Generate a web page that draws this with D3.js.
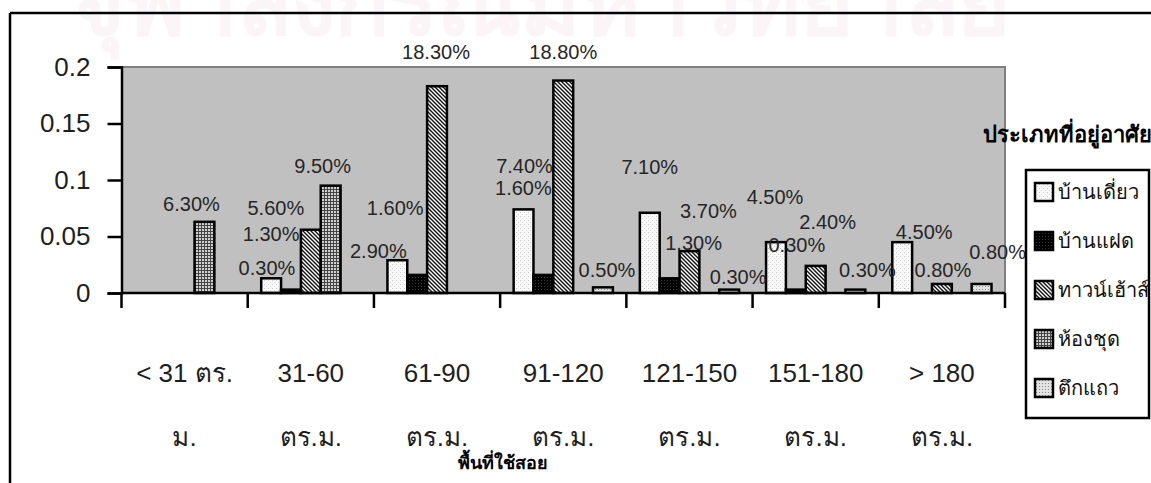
<!DOCTYPE html>
<html>
<head>
<meta charset="utf-8">
<script src="https://cdn.jsdelivr.net/npm/d3@7/dist/d3.min.js"></script>
<style>
  html, body { margin: 0; padding: 0; background: #fff; }
  svg { display: block; font-family: "Liberation Sans", Arial, sans-serif; }
</style>
</head>
<body>
<svg id="chart" width="1151" height="483"></svg>
<script>
// Floor-area bands (two-line labels)
const categoriesLine1 = ["< 31 ตร.", "31-60", "61-90", "91-120", "121-150", "151-180", "> 180"];
const categoriesLine2 = ["ม.", "ตร.ม.", "ตร.ม.", "ตร.ม.", "ตร.ม.", "ตร.ม.", "ตร.ม."];

// Housing types
const seriesNames = ["บ้านเดี่ยว", "บ้านแฝด", "ทาวน์เฮ้าส์", "ห้องชุด", "ตึกแถว"];

// Shares by housing type, per floor-area band
const singleHouse = [0, 0.013, 0.029, 0.074, 0.071, 0.045, 0.045];
const twinHouse   = [0, 0.003, 0.016, 0.016, 0.013, 0.003, 0];
const townhouse   = [0, 0.056, 0.183, 0.188, 0.037, 0.024, 0.008];
const condo       = [0.063, 0.095, 0, 0, 0, 0, 0];
const shophouse   = [0, 0, 0, 0.005, 0.003, 0.003, 0.008];

const yTicks = [0, 0.05, 0.1, 0.15, 0.2];
const xTitle = "พื้นที่ใช้สอย";
const legendTitle = "ประเภทที่อยู่อาศัย";

const seriesValues = [singleHouse, twinHouse, townhouse, condo, shophouse];

// Label placement offsets (px) from each bar's top-centre: [band][series]
const labelNudge = [
  [null, null, null, [-13, -18], null],
  [[0, -45], [-24, -22], [-35, -22], [-8, -20], null],
  [[-19, -9], [-22, -67], [-1, -34], null, null],
  [[1, -44], [-20, -87], [0, -29], null, [4, -18]],
  [[0, -46], [24, -36], [19, -40], null, [9, -13]],
  [[-1, -45], [1, -45], [12, -44], null, [12, -20]],
  [[22, -10], null, [1, -14], null, [16, -32]]
];

const svg = d3.select("#chart");
const defs = svg.append("defs");

// Fill patterns for the five housing types
function pattern(id, size, bg, draw) {
  const p = defs.append("pattern").attr("id", id)
    .attr("patternUnits", "userSpaceOnUse").attr("width", size).attr("height", size);
  p.append("rect").attr("width", size).attr("height", size).attr("fill", bg);
  draw(p);
}
pattern("pSingle", 4, "#fafafa", p => {
  p.append("rect").attr("x", 0).attr("y", 0).attr("width", 1).attr("height", 1).attr("fill", "#c4c4c4");
  p.append("rect").attr("x", 2).attr("y", 2).attr("width", 1).attr("height", 1).attr("fill", "#d4d4d4");
});
pattern("pTwin", 3, "#000", p => {
  p.append("rect").attr("x", 1).attr("y", 1).attr("width", 1).attr("height", 1).attr("fill", "#3a3a3a");
});
pattern("pTown", 4, "#fff", p => {
  p.append("path").attr("d", "M-1,-1L5,5M3,-1L5,1M-1,3L1,5")
    .attr("stroke", "#111").attr("stroke-width", 1.4);
});
pattern("pCondo", 3, "#d0d0d0", p => {
  p.append("rect").attr("x", 0).attr("y", 0).attr("width", 3).attr("height", 1).attr("fill", "#444");
  p.append("rect").attr("x", 0).attr("y", 0).attr("width", 1).attr("height", 3).attr("fill", "#444");
});
pattern("pRow", 3, "#e2e2e2", p => {
  p.append("rect").attr("x", 1).attr("y", 1).attr("width", 1).attr("height", 1).attr("fill", "#8a8a8a");
});
const fills = ["url(#pSingle)", "url(#pTwin)", "url(#pTown)", "url(#pCondo)", "url(#pRow)"];

// Faint watermark along the top edge
svg.append("text")
  .attr("x", 70).attr("y", 34)
  .attr("font-size", 92).attr("font-weight", "bold")
  .attr("fill", "#fbf5f8")
  .attr("textLength", 940)
  .text("จุฬาลงกรณ์มหาวิทยาลัย");

// Outer frame
svg.append("line").attr("x1", 10).attr("x2", 1151).attr("y1", 13).attr("y2", 13)
  .attr("stroke", "#000").attr("stroke-width", 2.5);
svg.append("line").attr("x1", 10).attr("x2", 10).attr("y1", 13).attr("y2", 483)
  .attr("stroke", "#000").attr("stroke-width", 2.5);

// Scales
const x0 = d3.scaleBand().domain(d3.range(categoriesLine1.length)).range([121.5, 1005]).padding(0);
const x1 = d3.scaleBand().domain(d3.range(seriesNames.length)).range([0, x0.bandwidth()])
  .paddingInner(0).paddingOuter(0.68);
const y = d3.scaleLinear().domain([0, 0.2]).range([293, 67]);

// Plot area
const [pl, pr] = x0.range();
svg.append("rect").attr("x", pl).attr("y", y(0.2)).attr("width", pr - pl).attr("height", y(0) - y(0.2))
  .attr("fill", "#c0c0c0");
svg.append("path")
  .attr("d", `M${pl},${y(0.2)}H${pr}V${y(0)}`)
  .attr("fill", "none").attr("stroke", "#808080").attr("stroke-width", 2);

// Bars
const bars = [];
seriesValues.forEach((vals, s) => vals.forEach((v, c) => { if (v > 0) bars.push({ s, c, v }); }));
svg.append("g").selectAll("rect").data(bars).join("rect")
  .attr("x", d => x0(d.c) + x1(d.s))
  .attr("y", d => y(d.v))
  .attr("width", x1.bandwidth())
  .attr("height", d => y(0) - y(d.v))
  .attr("fill", d => fills[d.s])
  .attr("stroke", "#000").attr("stroke-width", 2.5);

// Y axis
const yAxis = svg.append("g").attr("transform", `translate(${pl},0)`)
  .call(d3.axisLeft(y).tickValues(yTicks).tickFormat(d => String(d)).tickSize(14).tickPadding(17));
yAxis.select(".domain").attr("stroke", "#000").attr("stroke-width", 2.5);
yAxis.selectAll(".tick line").attr("stroke", "#000").attr("stroke-width", 2.5);
yAxis.selectAll(".tick text").attr("font-size", 26).attr("fill", "#1e1e1e")
  .attr("font-family", "'Liberation Sans', Arial, sans-serif");

// X axis: baseline and tick marks at band edges
const edges = d3.range(categoriesLine1.length + 1).map(i =>
  i < categoriesLine1.length ? x0(i) : x0(i - 1) + x0.bandwidth());
svg.append("line").attr("x1", pl).attr("x2", pr).attr("y1", y(0)).attr("y2", y(0))
  .attr("stroke", "#000").attr("stroke-width", 2.5);
svg.append("g").selectAll("line").data(edges).join("line")
  .attr("x1", d => d).attr("x2", d => d).attr("y1", y(0)).attr("y2", y(0) + 15)
  .attr("stroke", "#000").attr("stroke-width", 2.5);

// Category labels
const catG = svg.append("g").attr("font-size", 26).attr("fill", "#1e1e1e").attr("text-anchor", "middle");
catG.selectAll("text.l1").data(categoriesLine1).join("text").attr("class", "l1")
  .attr("x", (d, i) => x0(i) + x0.bandwidth() / 2).attr("y", 382).text(d => d);
catG.selectAll("text.l2").data(categoriesLine2).join("text").attr("class", "l2")
  .attr("x", (d, i) => x0(i) + x0.bandwidth() / 2).attr("y", 446).text(d => d);

// Axis title
svg.append("text").attr("x", 503).attr("y", 469).attr("text-anchor", "middle")
  .attr("font-size", 18).attr("font-weight", "bold").attr("fill", "#000").text(xTitle);

// Value labels
const fmt = d3.format(".2%");
svg.append("g").attr("font-size", 20).attr("fill", "#262626").attr("text-anchor", "middle")
  .selectAll("text").data(bars).join("text")
  .attr("x", d => x0(d.c) + x1(d.s) + x1.bandwidth() / 2 + labelNudge[d.c][d.s][0])
  .attr("y", d => y(d.v) + labelNudge[d.c][d.s][1])
  .attr("dy", "0.36em")
  .text(d => fmt(d.v));

// Legend
svg.append("text").attr("x", 983).attr("y", 142).attr("font-size", 22).attr("font-weight", "bold")
  .attr("fill", "#000").text(legendTitle);
const lg = svg.append("g");
lg.append("rect").attr("x", 1026).attr("y", 170).attr("width", 123).attr("height", 248)
  .attr("fill", "#fff").attr("stroke", "#000").attr("stroke-width", 2.5);
const items = lg.selectAll("g").data(seriesNames).join("g")
  .attr("transform", (d, i) => `translate(1035,${192 + i * 49})`);
items.append("rect").attr("x", 0).attr("y", -9).attr("width", 18).attr("height", 18)
  .attr("fill", (d, i) => fills[i]).attr("stroke", "#000").attr("stroke-width", 2.5);
items.append("text").attr("x", 23).attr("y", 0).attr("dy", "0.35em")
  .attr("font-size", 20).attr("fill", "#111").text(d => d);
</script>
</body>
</html>
